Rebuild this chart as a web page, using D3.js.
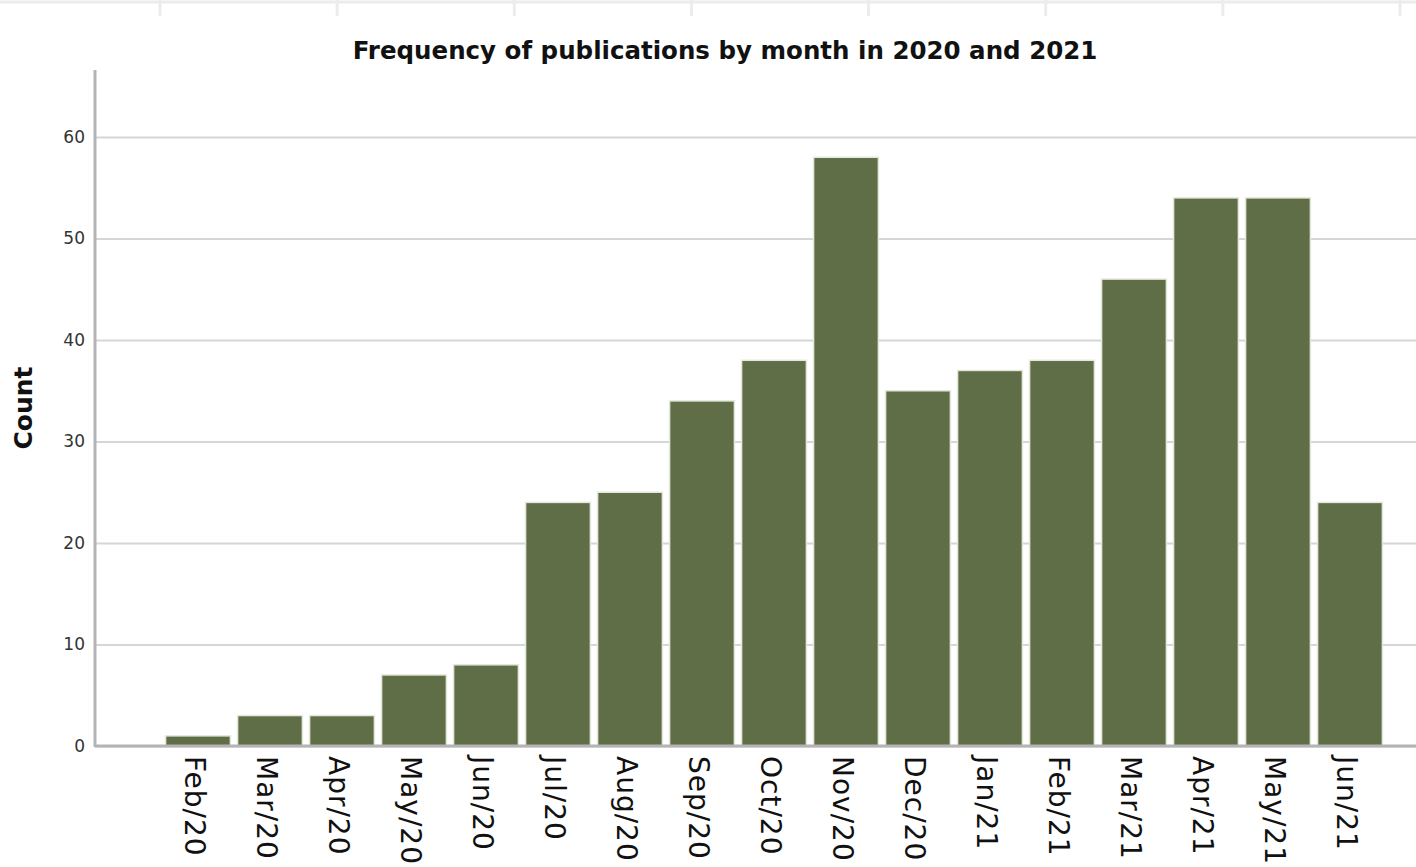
<!DOCTYPE html>
<html>
<head>
<meta charset="utf-8">
<script src="https://cdn.jsdelivr.net/npm/d3@7"></script>
<style>
  body { margin: 0; background: #ffffff; }
  svg { display: block; }
</style>
</head>
<body>
<div id="chart"></div>
<script>
// data
var months = ["Feb/20", "Mar/20", "Apr/20", "May/20", "Jun/20", "Jul/20", "Aug/20", "Sep/20",
  "Oct/20", "Nov/20", "Dec/20", "Jan/21", "Feb/21", "Mar/21", "Apr/21", "May/21", "Jun/21"];
var counts = [1, 3, 3, 7, 8, 24, 25, 34, 38, 58, 35, 37, 38, 46, 54, 54, 24];
var yTicks = [0, 10, 20, 30, 40, 50, 60];
var title = "Frequency of publications by month in 2020 and 2021";
var yTitle = "Count";

var width = 1416, height = 867;
var margin = {top: 70, right: 0, bottom: 121, left: 95};

var svg = d3.select("#chart").append("svg")
  .attr("width", width)
  .attr("height", height);

// faint frame at the very top (cropped panel edge)
var frame_scale = d3.scaleLinear().domain([0, 7]).range([160, 1400]);
svg.append("line")
  .attr("x1", 0).attr("x2", width)
  .attr("y1", 2).attr("y2", 2)
  .attr("stroke", "#ececec").attr("stroke-width", 3);
svg.append("g")
  .selectAll("line")
  .data(d3.range(0, 8))
  .enter()
  .append("line")
  .attr("x1", function(d) { return frame_scale(d); })
  .attr("x2", function(d) { return frame_scale(d); })
  .attr("y1", 0).attr("y2", 16)
  .attr("stroke", "#ececec").attr("stroke-width", 3);

var x_scale = d3.scaleBand()
  .domain(months)
  .range([162, 1386])
  .paddingInner(0.1)
  .paddingOuter(0.05);

var y_scale = d3.scaleLinear()
  .domain([0, 66.6])
  .range([height - margin.bottom, margin.top]);

// gridlines
svg.append("g")
  .attr("class", "grid_lines")
  .attr("transform", "translate(" + margin.left + ",0)")
  .call(d3.axisLeft(y_scale).tickValues(yTicks).tickSize(-(width - margin.left)).tickFormat(""))
  .call(function(g) { g.select(".domain").remove(); })
  .selectAll(".tick line")
  .attr("stroke", "#d6d6d6")
  .attr("stroke-width", 2);

// bars
svg.append("g")
  .selectAll("rect")
  .data(counts)
  .enter()
  .append("rect")
  .attr("x", function(d, i) { return x_scale(months[i]); })
  .attr("y", function(d) { return y_scale(d); })
  .attr("width", x_scale.bandwidth())
  .attr("height", function(d) { return y_scale(0) - y_scale(d); })
  .attr("fill", "#5f6e47")
  .attr("stroke", "#e4e8dc")
  .attr("stroke-width", 1.5);

// axes lines
svg.append("line")
  .attr("x1", margin.left).attr("x2", width)
  .attr("y1", y_scale(0)).attr("y2", y_scale(0))
  .attr("stroke", "#b4b4b4").attr("stroke-width", 3);
svg.append("line")
  .attr("x1", margin.left).attr("x2", margin.left)
  .attr("y1", margin.top).attr("y2", y_scale(0) + 1)
  .attr("stroke", "#b4b4b4").attr("stroke-width", 3);

// y tick labels
svg.append("g")
  .selectAll("text")
  .data(yTicks)
  .enter()
  .append("text")
  .attr("x", 85)
  .attr("y", function(d) { return y_scale(d); })
  .attr("dy", "0.35em")
  .attr("text-anchor", "end")
  .attr("font-family", "DejaVu Sans")
  .attr("font-size", "17px")
  .attr("fill", "#333")
  .text(function(d) { return d; });

// x labels, rotated
svg.append("g")
  .selectAll("text")
  .data(months)
  .enter()
  .append("text")
  .attr("transform", function(d) {
    return "translate(" + (x_scale(d) + x_scale.bandwidth() / 2 - 3) + "," + (y_scale(0) + 10) + ") rotate(90)";
  })
  .attr("dy", "0.35em")
  .attr("text-anchor", "start")
  .attr("font-family", "DejaVu Sans")
  .attr("font-size", "28px")
  .attr("letter-spacing", "1px")
  .attr("fill", "#111")
  .text(function(d) { return d; });

// y axis title
svg.append("text")
  .attr("transform", "translate(32,408) rotate(-90)")
  .attr("text-anchor", "middle")
  .attr("font-family", "DejaVu Sans")
  .attr("font-weight", "bold")
  .attr("font-size", "25px")
  .attr("fill", "#111")
  .text(yTitle);

// chart title
svg.append("text")
  .attr("x", 725)
  .attr("y", 59)
  .attr("text-anchor", "middle")
  .attr("font-family", "DejaVu Sans")
  .attr("font-weight", "bold")
  .attr("font-size", "24.5px")
  .attr("fill", "#111")
  .text(title);
</script>
</body>
</html>
